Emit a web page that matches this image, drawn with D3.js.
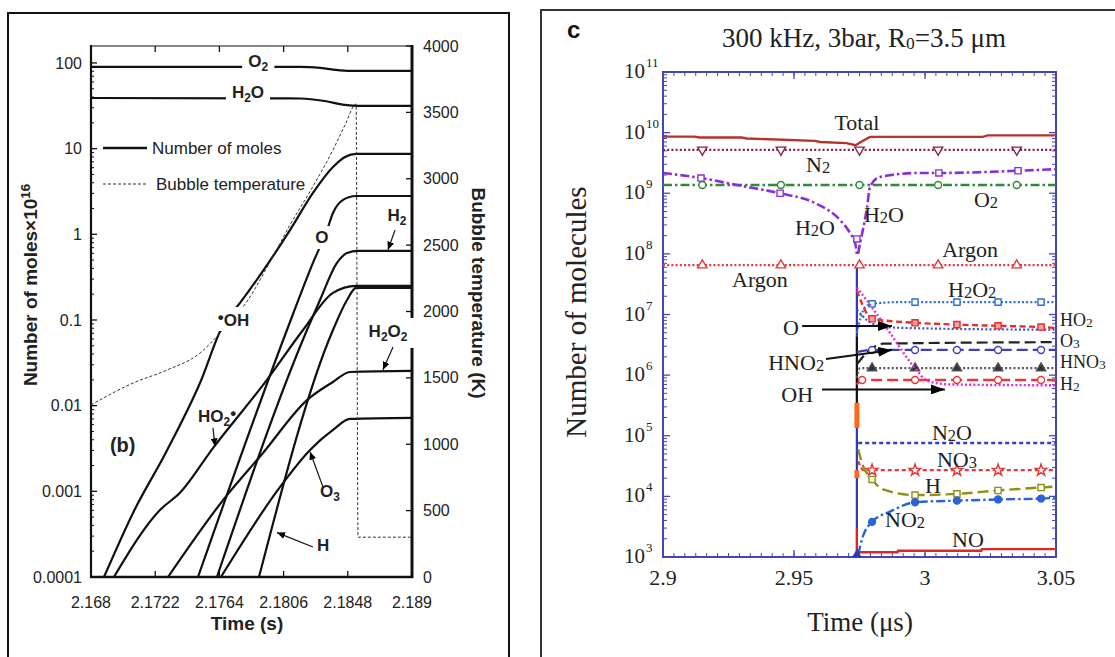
<!DOCTYPE html>
<html><head><meta charset="utf-8">
<script src="https://cdn.jsdelivr.net/npm/d3@7/dist/d3.min.js"></script>
<style>html,body{margin:0;padding:0;background:#fff;}svg{display:block}</style>
</head><body>
<svg id="fig" width="1115" height="657"></svg>
<script>
// ================= DATA : panel (b) =================
const bTimeTicks = [2.168, 2.1722, 2.1764, 2.1806, 2.1848, 2.189];
const bMoleTicks = [0.0001, 0.001, 0.01, 0.1, 1, 10, 100];
const bMoleTickLabels = ["0.0001", "0.001", "0.01", "0.1", "1", "10", "100"];
const bTempTicks = [0, 500, 1000, 1500, 2000, 2500, 3000, 3500, 4000];

const bO2Time = [2.168, 2.1817, 2.1830, 2.1843, 2.1853, 2.189];
const bO2 = [90, 90, 87.5, 82, 80.7, 80.7];
const bH2OTime = [2.168, 2.1817, 2.1833, 2.1846, 2.1855, 2.189];
const bH2O = [39, 38.5, 36, 32.4, 31.5, 31.5];
const bOHTime = [2.16885, 2.17075, 2.17297, 2.17513, 2.17664, 2.17775, 2.18102, 2.18252, 2.18383, 2.18462, 2.18534, 2.189];
const bOH = [1e-4, 5.6e-4, 3.0e-3, 0.0184, 0.0875, 0.158, 1.12, 3.04, 6.1, 8.0, 8.7, 8.7];
const bOTime = [2.175, 2.18082, 2.18252, 2.18344, 2.18383, 2.18449, 2.18534, 2.189];
const bO = [1e-4, 0.0764, 0.464, 1.12, 1.77, 2.52, 2.8, 2.8];
const bH2Time = [2.17624, 2.18213, 2.18298, 2.18409, 2.18475, 2.18547, 2.189];
const bH2 = [1e-4, 0.0764, 0.171, 0.464, 0.605, 0.64, 0.64];
const bHTime = [2.17899, 2.18383, 2.18475, 2.18534, 2.189];
const bH = [1e-4, 0.0764, 0.171, 0.237, 0.237];
const bHO2Time = [2.1695, 2.17251, 2.17382, 2.17598, 2.17951, 2.18187, 2.18383, 2.18534, 2.189];
const bHO2 = [1e-4, 6.05e-4, 9.6e-4, 3.2e-3, 0.020, 0.0764, 0.207, 0.25, 0.25];
const bH2O2Time = [2.17304, 2.17664, 2.17925, 2.18213, 2.18383, 2.18494, 2.189];
const bH2O2 = [1e-4, 7.9e-4, 2.8e-3, 0.0116, 0.0189, 0.0247, 0.0254];
const bO3Time = [2.1765, 2.18036, 2.18233, 2.18383, 2.18494, 2.189];
const bO3 = [1e-4, 1.12e-3, 3.04e-3, 5.2e-3, 7.0e-3, 7.2e-3];
const bTempTime = [2.168, 2.17075, 2.17297, 2.17513, 2.17644, 2.17827, 2.17971, 2.18102, 2.18246, 2.18383, 2.18462, 2.18534, 2.18547, 2.189];
const bTemp = [1296, 1461, 1559, 1687, 1838, 2087, 2373, 2652, 2930, 3217, 3405, 3563, 300, 300];

// ================= DATA : panel (c) =================
const cTimeTicks = [2.9, 2.95, 3, 3.05];
const cTimeTickLabels = ["2.9", "2.95", "3", "3.05"];
const cExpTicks = [3, 4, 5, 6, 7, 8, 9, 10, 11];
const cMarkPre = [2.915, 2.945, 2.975, 3.005, 3.035];
const cMarkPost = [2.9798, 2.9962, 3.0122, 3.0279, 3.0443];
const cT0 = 2.974;

const cTotalTime = [2.9, 2.912, 2.914, 2.93, 2.932, 2.958, 2.96, 2.97, 2.9735, 2.976, 2.979, 3.022, 3.024, 3.05];
const cTotal = [8.6e9, 8.6e9, 8.3e9, 8.3e9, 8.0e9, 7.3e9, 7.0e9, 6.7e9, 6.2e9, 7.2e9, 8.5e9, 8.5e9, 9.0e9, 9.0e9];
const cN2Time = [2.9, 3.05];
const cN2 = [5.2e9, 5.2e9];
const cN2Marks = [5.2e9, 5.2e9, 5.2e9, 5.2e9, 5.2e9];
const cO2Time = [2.9, 3.05];
const cO2 = [1.37e9, 1.37e9];
const cO2Marks = [1.37e9, 1.37e9, 1.37e9, 1.37e9, 1.37e9];
const cArTime = [2.9, 3.05];
const cAr = [6.5e7, 6.5e7];
const cArMarks = [6.5e7, 6.5e7, 6.5e7, 6.5e7, 6.5e7];
const cH2OTime = [2.9, 2.9145, 2.93, 2.9447, 2.958, 2.9676, 2.9714, 2.9735, 2.9742, 2.9752, 2.9763, 2.9779, 2.979, 2.9828, 2.998, 3.0053, 3.0355, 3.05];
const cH2O = [2.16e9, 1.78e9, 1.32e9, 1.0e9, 6.9e8, 3.6e8, 2.2e8, 1.4e8, 9.5e7, 1.5e8, 2.5e8, 5.9e8, 1.26e9, 1.86e9, 2.16e9, 2.16e9, 2.35e9, 2.5e9];
const cH2OMarkTime = [2.9145, 2.9447, 2.974, 3.0053, 3.0355];
const cH2OMarks = [1.78e9, 1.0e9, 1.76e8, 2.16e9, 2.35e9];

const cH2O2Time = [2.974, 2.9755, 2.977, 2.9798, 2.99, 3.05];
const cH2O2 = [5e6, 9e6, 1.3e7, 1.5e7, 1.6e7, 1.6e7];
const cH2O2Marks = [1.5e7, 1.6e7, 1.6e7, 1.6e7, 1.6e7];
const cHO2Time = [2.974, 2.976, 2.978, 2.9798, 2.9962, 3.0122, 3.0279, 3.0443, 3.05];
const cHO2 = [2.5e7, 1.5e7, 1.0e7, 8.5e6, 7.3e6, 6.8e6, 6.5e6, 6.2e6, 6.0e6];
const cHO2Marks = [8.5e6, 7.3e6, 6.8e6, 6.5e6, 6.2e6];
const cOTime = [2.974, 2.978, 2.985, 3.0, 3.05];
const cO = [1.2e7, 8e6, 6.2e6, 5.9e6, 5.6e6];
const cO3Time = [2.974, 2.978, 2.984, 3.05];
const cO3 = [1.5e6, 2.4e6, 3.3e6, 3.5e6];
const cHNO2Time = [2.974, 2.9798, 3.05];
const cHNO2 = [2.4e6, 2.6e6, 2.6e6];
const cHNO2Marks = [2.6e6, 2.6e6, 2.6e6, 2.6e6, 2.6e6];
const cHNO3Time = [2.974, 2.9752, 3.05];
const cHNO3 = [0.9e6, 1.3e6, 1.3e6];
const cHNO3Marks = [1.3e6, 1.3e6, 1.3e6, 1.3e6, 1.3e6];
const cH2Time = [2.974, 2.976, 3.05];
const cH2 = [7e5, 8.3e5, 8.3e5];
const cH2MarkTime = [2.976, 2.9962, 3.0122, 3.0279, 3.0443];
const cH2Marks = [8.3e5, 8.3e5, 8.3e5, 8.3e5, 8.3e5];
const cOHTime = [2.974, 2.9798, 2.9866, 2.9962, 3.001, 3.01, 3.05];
const cOH = [2.8e7, 1.3e7, 5e6, 1.3e6, 8e5, 7e5, 6.8e5];
const cN2OTime = [2.9745, 3.05];
const cN2O = [7.6e4, 7.6e4];
const cNO3Time = [2.9745, 2.9765, 3.05];
const cNO3 = [3.8e4, 2.7e4, 2.7e4];
const cNO3Marks = [2.7e4, 2.7e4, 2.7e4, 2.7e4, 2.7e4];
const cHTime = [2.9745, 2.976, 2.9798, 2.984, 2.9962, 3.0122, 3.0279, 3.0443, 3.05];
const cH = [6e4, 3.5e4, 1.9e4, 1.3e4, 1.05e4, 1.1e4, 1.25e4, 1.4e4, 1.45e4];
const cHMarks = [1.9e4, 1.05e4, 1.1e4, 1.25e4, 1.4e4];
const cNO2Time = [2.9745, 2.976, 2.9798, 2.987, 2.9962, 3.0122, 3.0279, 3.0443, 3.05];
const cNO2 = [1.1e3, 2e3, 3.8e3, 5.7e3, 8e3, 8.5e3, 8.9e3, 9.2e3, 9.5e3];
const cNO2Marks = [3.8e3, 8e3, 8.5e3, 8.9e3, 9.2e3];
const cNOTime = [2.9745, 2.9895, 2.9897, 3.0215, 3.0217, 3.05];
const cNO = [1.2e3, 1.2e3, 1.27e3, 1.27e3, 1.35e3, 1.35e3];
const cDropTop = [6.5e7, 4.3e6, 3.5e5, 2.7e4, 3e3];
const cDropBottom = [1e3, 3.5e5, 1.35e5, 2e4, 1e3];

// ================= DRAWING =================
const svg = d3.select('#fig');
const SANS = "'Liberation Sans', Arial, sans-serif";
const SERIF = "'Liberation Serif', 'Times New Roman', serif";

const defs = svg.append('defs');
function arrowDef(id, w, h) {
  defs.append('marker').attr('id', id).attr('viewBox', `0 0 ${w} ${h}`)
    .attr('refX', w).attr('refY', h / 2).attr('markerWidth', w).attr('markerHeight', h)
    .attr('markerUnits', 'userSpaceOnUse').attr('orient', 'auto')
    .append('path').attr('d', `M0,0L${w},${h / 2}L0,${h}Z`).attr('fill', '#000');
}
arrowDef('ahB', 8, 7);
arrowDef('ahC', 14, 10);

// rich text: "_d" -> subscript digit, "^c" -> raised char
function rich(sel, str, scale, shift, rise) {
  const parts = str.split(/(_\d|\^.)/).filter(s => s.length);
  let cur = 0;
  parts.forEach(p => {
    if (p[0] === '_') {
      sel.append('tspan').attr('font-size', (scale * 100) + '%').attr('dy', shift - cur).text(p.slice(1));
      cur = shift;
    } else if (p[0] === '^') {
      sel.append('tspan').attr('dy', -(rise || 4) - cur).text(p.slice(1));
      cur = -(rise || 4);
    } else {
      sel.append('tspan').attr('dy', -cur).text(p);
      cur = 0;
    }
  });
}

// ---------------- Panel (b) ----------------
svg.append('rect').attr('x', 8).attr('y', 13).attr('width', 501).attr('height', 700)
  .attr('fill', 'none').attr('stroke', '#111').attr('stroke-width', 2);

const bX = d3.scaleLinear().domain([2.168, 2.189]).range([91, 412]);
const bY = d3.scaleLog().domain([1e-4, Math.pow(10, 2.198)]).range([577, 46]);
const bT = d3.scaleLinear().domain([0, 4000]).range([577, 46]);
const gB = svg.append('g');

// ticks
const bMinor = [];
bMoleTicks.forEach(d => { for (let k = 2; k <= 9; k++) { if (d * k < bY.domain()[1]) bMinor.push(d * k); } });
gB.selectAll('.bminor').data(bMinor).join('line')
  .attr('x1', bX.range()[0]).attr('x2', bX.range()[0] + 3).attr('y1', d => bY(d)).attr('y2', d => bY(d))
  .attr('stroke', '#111').attr('stroke-width', 1);
gB.selectAll('.bmajor').data(bMoleTicks).join('line')
  .attr('x1', bX.range()[0]).attr('x2', bX.range()[0] + 6).attr('y1', d => bY(d)).attr('y2', d => bY(d))
  .attr('stroke', '#111').attr('stroke-width', 1.3);
gB.selectAll('.bylab').data(bMoleTicks).join('text')
  .attr('x', 82).attr('y', d => bY(d)).attr('dy', '0.35em').attr('text-anchor', 'end')
  .attr('font-family', SANS).attr('font-size', 16).attr('fill', '#222')
  .text((d, i) => bMoleTickLabels[i]);
gB.selectAll('.btick').data(bTempTicks).join('line')
  .attr('x1', bX.range()[1] - 6).attr('x2', bX.range()[1]).attr('y1', d => bT(d)).attr('y2', d => bT(d))
  .attr('stroke', '#111').attr('stroke-width', 1.3);
gB.selectAll('.btlab').data(bTempTicks).join('text')
  .attr('x', 423).attr('y', d => bT(d)).attr('dy', '0.35em')
  .attr('font-family', SANS).attr('font-size', 16).attr('fill', '#222').text(d => d);
gB.selectAll('.bxt').data(bTimeTicks.slice(1, -1)).join('line')
  .attr('x1', d => bX(d)).attr('x2', d => bX(d)).attr('y1', 577).attr('y2', 571)
  .attr('stroke', '#111').attr('stroke-width', 1.3);
gB.selectAll('.bxt2').data(bTimeTicks.slice(1, -1)).join('line')
  .attr('x1', d => bX(d)).attr('x2', d => bX(d)).attr('y1', 46).attr('y2', 52)
  .attr('stroke', '#111').attr('stroke-width', 1.3);
gB.selectAll('.bxlab').data(bTimeTicks).join('text')
  .attr('x', d => bX(d)).attr('y', 608).attr('text-anchor', 'middle')
  .attr('font-family', SANS).attr('font-size', 16).attr('fill', '#222').text(d => d);

// frame
gB.append('line').attr('x1', 91).attr('x2', 412).attr('y1', 46).attr('y2', 46).attr('stroke', '#111').attr('stroke-width', 1.2);
gB.append('line').attr('x1', 91).attr('x2', 91).attr('y1', 45).attr('y2', 578).attr('stroke', '#111').attr('stroke-width', 2.2);
gB.append('line').attr('x1', 90).attr('x2', 413).attr('y1', 577).attr('y2', 577).attr('stroke', '#111').attr('stroke-width', 2.4);
gB.append('line').attr('x1', 412).attr('x2', 412).attr('y1', 45).attr('y2', 578).attr('stroke', '#111').attr('stroke-width', 3);

// curves
const bLine = d3.line().x(d => bX(d[0])).y(d => bY(d[1])).curve(d3.curveMonotoneX);
const bSeries = [[bO2Time, bO2], [bH2OTime, bH2O], [bOHTime, bOH], [bOTime, bO], [bH2Time, bH2],
  [bHTime, bH], [bHO2Time, bHO2], [bH2O2Time, bH2O2], [bO3Time, bO3]];
bSeries.forEach(s => {
  gB.append('path').datum(d3.zip(s[0], s[1])).attr('d', bLine)
    .attr('fill', 'none').attr('stroke', '#111').attr('stroke-width', 2.2).attr('stroke-linejoin', 'round');
});
const bTLine = d3.line().x(d => bX(d[0])).y(d => bT(d[1])).curve(d3.curveMonotoneX);
gB.append('path').datum(d3.zip(bTempTime, bTemp)).attr('d', bTLine)
  .attr('fill', 'none').attr('stroke', '#333').attr('stroke-width', 1).attr('stroke-dasharray', '3,2');

// legend (inside plot, pixel offsets from plot frame)
gB.append('line').attr('x1', 103).attr('x2', 147).attr('y1', 148).attr('y2', 148).attr('stroke', '#111').attr('stroke-width', 2.4);
gB.append('text').attr('x', 152).attr('y', 148).attr('dy', '0.35em').attr('font-family', SANS).attr('font-size', 17).attr('fill', '#222').text('Number of moles');
gB.append('line').attr('x1', 103).attr('x2', 147).attr('y1', 184).attr('y2', 184).attr('stroke', '#333').attr('stroke-width', 1).attr('stroke-dasharray', '3,2');
gB.append('text').attr('x', 156).attr('y', 184).attr('dy', '0.35em').attr('font-family', SANS).attr('font-size', 17).attr('fill', '#222').text('Bubble temperature');

// curve labels (data coordinates)
function bLabel(str, t, v, o) {
  o = o || {};
  const g = gB.append('g');
  const txt = g.append('text').attr('x', bX(t)).attr('y', bY(v)).attr('dy', '0.35em')
    .attr('text-anchor', o.anchor || 'middle').attr('font-family', SANS)
    .attr('font-weight', 'bold').attr('font-size', o.size || 17).attr('fill', '#222');
  rich(txt, str, 0.7, 4, 3);
  if (o.box) {
    const bb = txt.node().getBBox();
    const p = o.pad || [3, 1, 3, 1];
    g.insert('rect', 'text').attr('x', bb.x - p[0]).attr('y', bb.y - p[1])
      .attr('width', bb.width + p[0] + p[2]).attr('height', bb.height + p[1] + p[3]).attr('fill', '#fff');
  }
}
bLabel('O_2', 2.17893, 90, { box: true, pad: [6, 0, 6, 0] });
bLabel('H_2O', 2.17827, 39, { box: true, pad: [6, 0, 6, 0] });
bLabel('O', 2.18311, 0.79, { box: true, pad: [3, 2, 3, 2] });
bLabel('H_2', 2.18802, 1.43);
bLabel('^•OH', 2.17630, 0.0850, { anchor: 'start', box: true, pad: [1, 1, 2, 1] });
bLabel('H_2O_2', 2.18743, 0.0634, { box: true, pad: [4, 4, 12, 4] });
bLabel('HO_2^•', 2.17500, 6.46e-3, { anchor: 'start' });
bLabel('(b)', 2.16924, 2.88e-3, { anchor: 'start', size: 20 });
bLabel('O_3', 2.18298, 8.6e-4, { anchor: 'start' });
bLabel('H', 2.18278, 2.0e-4, { anchor: 'start' });

function bArrow(t1, v1, t2, v2) {
  gB.append('line').attr('x1', bX(t1)).attr('y1', bY(v1)).attr('x2', bX(t2)).attr('y2', bY(v2))
    .attr('stroke', '#111').attr('stroke-width', 1.2).attr('marker-end', 'url(#ahB)');
}
bArrow(2.18789, 1.12, 2.18743, 0.66);
bArrow(2.18776, 0.0484, 2.18710, 0.0262);
bArrow(2.17598, 5.5e-3, 2.17611, 3.35e-3);
bArrow(2.18318, 1.12e-3, 2.18233, 2.9e-3);
bArrow(2.18252, 2.24e-4, 2.18017, 3.3e-4);

// axis titles
gB.append('text').attr('transform', 'translate(30,285) rotate(-90)').attr('text-anchor', 'middle').attr('dy', '0.35em')
  .attr('font-family', SANS).attr('font-weight', 'bold').attr('font-size', 19).attr('fill', '#222')
  .call(s => { s.append('tspan').text('Number of moles×10'); s.append('tspan').attr('font-size', '70%').attr('dy', -7).text('16'); });
gB.append('text').attr('transform', 'translate(479,293) rotate(90)').attr('text-anchor', 'middle').attr('dy', '0.35em')
  .attr('font-family', SANS).attr('font-weight', 'bold').attr('font-size', 19).attr('fill', '#222').text('Bubble temperature (K)');
gB.append('text').attr('x', 247).attr('y', 630).attr('text-anchor', 'middle')
  .attr('font-family', SANS).attr('font-weight', 'bold').attr('font-size', 19).attr('fill', '#222').text('Time (s)');

// ---------------- Panel (c) ----------------
svg.append('rect').attr('x', 541).attr('y', 10).attr('width', 700).attr('height', 700)
  .attr('fill', 'none').attr('stroke', '#333').attr('stroke-width', 2);
const cX = d3.scaleLinear().domain([2.9, 3.05]).range([663, 1056]);
const cY = d3.scaleLog().domain([1e3, 1e11]).range([557, 72]);
const gC = svg.append('g');
const AX = '#4545b5';

// ticks
const cMinorY = [];
cExpTicks.slice(0, -1).forEach(e => { for (let k = 2; k <= 9; k++) cMinorY.push(k * Math.pow(10, e)); });
[[663, 1], [1056, -1]].forEach(([x0, dir]) => {
  gC.selectAll(null).data(cMinorY).join('line').attr('x1', x0).attr('x2', x0 + dir * 4)
    .attr('y1', d => cY(d)).attr('y2', d => cY(d)).attr('stroke', AX).attr('stroke-width', 1);
  gC.selectAll(null).data(cExpTicks).join('line').attr('x1', x0).attr('x2', x0 + dir * 7)
    .attr('y1', d => cY(Math.pow(10, d))).attr('y2', d => cY(Math.pow(10, d))).attr('stroke', AX).attr('stroke-width', 1.3);
});
const cMinorX = d3.range(0, 37).map(i => 2.9 + i * 0.05 / 12);
[[557, -1], [72, 1]].forEach(([y0, dir]) => {
  gC.selectAll(null).data(cMinorX).join('line').attr('y1', y0).attr('y2', y0 + dir * 4)
    .attr('x1', d => cX(d)).attr('x2', d => cX(d)).attr('stroke', AX).attr('stroke-width', 1);
  gC.selectAll(null).data(cTimeTicks).join('line').attr('y1', y0).attr('y2', y0 + dir * 7)
    .attr('x1', d => cX(d)).attr('x2', d => cX(d)).attr('stroke', AX).attr('stroke-width', 1.3);
});
gC.append('rect').attr('x', 663).attr('y', 72).attr('width', 393).attr('height', 485)
  .attr('fill', 'none').attr('stroke', AX).attr('stroke-width', 2);

gC.selectAll('.cxl').data(cTimeTicks).join('text').attr('x', d => cX(d)).attr('y', 585)
  .attr('text-anchor', 'middle').attr('font-family', SERIF).attr('font-size', 22).attr('fill', '#222')
  .text((d, i) => cTimeTickLabels[i]);
gC.selectAll('.cyl').data(cExpTicks).join('text').attr('x', 645).attr('y', d => cY(Math.pow(10, d)) + 6)
  .attr('text-anchor', 'end').attr('font-family', SERIF).attr('font-size', 21).attr('fill', '#222').text('10');
gC.selectAll('.cye').data(cExpTicks).join('text').attr('x', 646).attr('y', d => cY(Math.pow(10, d)) - 5)
  .attr('font-family', SERIF).attr('font-size', 13).attr('fill', '#222').text(d => d);

// series
const lin = d3.line().x(d => cX(d[0])).y(d => cY(d[1]));
const mono = d3.line().x(d => cX(d[0])).y(d => cY(d[1])).curve(d3.curveMonotoneX);
const DOT = '2,2.2', DASH = '6,3.5', LDASH = '11,5', DDOT = '9,3,2.5,3';
const cSeries = [
  { t: cArTime, v: cAr, c: '#e23a3a', w: 2.2, dash: DOT, mt: cMarkPre, mv: cArMarks, sym: d3.symbolTriangle, fill: '#fff' },
  { t: cTotalTime, v: cTotal, c: '#b8322e', w: 2.4, dash: null, lin: true },
  { t: cN2Time, v: cN2, c: '#8a2040', w: 2.2, dash: DOT, mt: cMarkPre, mv: cN2Marks, sym: d3.symbolTriangle, rot: 180, fill: '#fff' },
  { t: cO2Time, v: cO2, c: '#2f8a3a', w: 2.4, dash: DDOT, mt: cMarkPre, mv: cO2Marks, sym: d3.symbolCircle, fill: '#fff' },
  { t: cH2OTime, v: cH2O, c: '#8a2fd8', w: 2.6, dash: DDOT, mt: cH2OMarkTime, mv: cH2OMarks, sym: d3.symbolSquare, fill: '#fff' },
  { t: cH2O2Time, v: cH2O2, c: '#2a6fd6', w: 2.2, dash: DOT, mt: cMarkPost, mv: cH2O2Marks, sym: d3.symbolSquare, fill: '#fff' },
  { t: cOTime, v: cO, c: '#3b55c8', w: 2.2, dash: DOT },
  { t: cHO2Time, v: cHO2, c: '#e03030', w: 2.4, dash: DASH, mt: cMarkPost, mv: cHO2Marks, sym: d3.symbolSquare, fill: '#f6a0a0' },
  { t: cO3Time, v: cO3, c: '#222', w: 2.2, dash: LDASH },
  { t: cHNO2Time, v: cHNO2, c: '#4040b8', w: 2.2, dash: LDASH, mt: cMarkPost, mv: cHNO2Marks, sym: d3.symbolCircle, fill: '#fff' },
  { t: cHNO3Time, v: cHNO3, c: '#555', w: 2.2, dash: DOT, mt: cMarkPost, mv: cHNO3Marks, sym: d3.symbolTriangle, fill: '#333' },
  { t: cH2Time, v: cH2, c: '#e63838', w: 2.4, dash: LDASH, mt: cH2MarkTime, mv: cH2Marks, sym: d3.symbolCircle, fill: '#fff' },
  { t: cOHTime, v: cOH, c: '#e030c8', w: 2.4, dash: DOT },
  { t: cN2OTime, v: cN2O, c: '#2f3fc8', w: 2.4, dash: '4,3' },
  { t: cNO3Time, v: cNO3, c: '#e03a3a', w: 2.2, dash: '4,3', mt: cMarkPost, mv: cNO3Marks, sym: d3.symbolStar, fill: '#fff' },
  { t: cHTime, v: cH, c: '#8f8f10', w: 2.4, dash: LDASH, mt: cMarkPost, mv: cHMarks, sym: d3.symbolSquare, fill: '#fff' },
  { t: cNO2Time, v: cNO2, c: '#2a64d0', w: 2.4, dash: DDOT, mt: cMarkPost, mv: cNO2Marks, sym: d3.symbolCircle, fill: '#2a64d0' },
  { t: cNOTime, v: cNO, c: '#e02525', w: 2.4, dash: null, lin: true }
];
// transition drops
const dropStyle = [{ c: '#2b3bb0', w: 2.2 }, { c: '#111', w: 2 }, { c: '#ff6a1a', w: 5 }, { c: '#ff6a1a', w: 5 }, { c: '#e02525', w: 2 }];
cDropTop.forEach((top, i) => {
  gC.append('line').attr('x1', cX(cT0)).attr('x2', cX(cT0)).attr('y1', cY(top)).attr('y2', cY(cDropBottom[i]))
    .attr('stroke', dropStyle[i].c).attr('stroke-width', dropStyle[i].w);
});
cSeries.forEach(s => {
  gC.append('path').datum(d3.zip(s.t, s.v)).attr('d', s.lin ? lin : mono)
    .attr('fill', 'none').attr('stroke', s.c).attr('stroke-width', s.w)
    .attr('stroke-dasharray', s.dash);
  if (s.mt) {
    const sym = d3.symbol().type(s.sym).size(s.sym === d3.symbolStar ? 42 : 38);
    gC.selectAll(null).data(d3.zip(s.mt, s.mv)).join('path').attr('d', sym)
      .attr('transform', d => `translate(${cX(d[0])},${cY(d[1])}) rotate(${s.rot || 0})`)
      .attr('fill', s.fill).attr('stroke', s.c).attr('stroke-width', 1.4);
  }
});
gC.append('path').attr('d', d3.symbol().type(d3.symbolTriangle).size(40)())
  .attr('transform', `translate(${cX(cT0)},${cY(1.1e3)})`).attr('fill', '#2b3bb0');

// labels
function cLabel(str, t, v, anchor, size) {
  const txt = gC.append('text').attr('x', cX(t)).attr('y', cY(v)).attr('text-anchor', anchor || 'middle')
    .attr('font-family', SERIF).attr('font-size', size || 22).attr('fill', '#222');
  rich(txt, str, 0.75, 1);
}
cLabel('Total', 2.974, 1.1e10);
cLabel('N_2', 2.9592, 2.24e9);
cLabel('H_2O', 2.958, 2.04e8);
cLabel('H_2O', 2.9767, 3.36e8, 'start');
cLabel('O_2', 3.0233, 5.9e8);
cLabel('Argon', 3.0172, 8.9e7);
cLabel('Argon', 2.937, 2.85e7);
cLabel('H_2O_2', 3.018, 1.95e7);
cLabel('HO_2', 3.0515, 6.5e6, 'start', 18);
cLabel('O_3', 3.0515, 2.95e6, 'start', 18);
cLabel('HNO_3', 3.0515, 1.3e6, 'start', 18);
cLabel('H_2', 3.0515, 5.6e5, 'start', 18);
cLabel('O', 2.9519, 4.6e6, 'end');
cLabel('HNO_2', 2.9615, 1.22e6, 'end');
cLabel('OH', 2.9573, 3.6e5, 'end');
cLabel('N_2O', 3.0103, 8.5e4);
cLabel('NO_3', 3.0122, 3.05e4);
cLabel('H', 3.003, 1.13e4);
cLabel('NO_2', 2.9924, 3.1e3);
cLabel('NO', 3.0164, 1.46e3);

function cArrow(t1, v1, t2, v2) {
  gC.append('line').attr('x1', cX(t1)).attr('y1', cY(v1)).attr('x2', cX(t2)).attr('y2', cY(v2))
    .attr('stroke', '#111').attr('stroke-width', 2).attr('marker-end', 'url(#ahC)');
}
cArrow(2.9531, 6.45e6, 2.9874, 6.45e6);
cArrow(2.9622, 1.85e6, 2.9874, 2.6e6);
cArrow(2.9607, 5.8e5, 3.0076, 5.8e5);

// titles
svg.append('text').attr('x', 567).attr('y', 38).attr('font-family', SANS).attr('font-weight', 'bold')
  .attr('font-size', 24).attr('fill', '#111').text('c');
svg.append('text').attr('x', 864).attr('y', 47).attr('text-anchor', 'middle').attr('font-family', SERIF)
  .attr('font-size', 27).attr('fill', '#222')
  .call(s => { s.append('tspan').text('300 kHz, 3bar, R'); s.append('tspan').attr('font-size', '65%').attr('dy', 2).text('0'); s.append('tspan').attr('dy', -2).text('=3.5 μm'); });
svg.append('text').attr('transform', 'translate(576,312) rotate(-90)').attr('text-anchor', 'middle').attr('dy', '0.35em')
  .attr('font-family', SERIF).attr('font-size', 29).attr('fill', '#222').text('Number of molecules');
svg.append('text').attr('x', 860).attr('y', 631).attr('text-anchor', 'middle').attr('font-family', SERIF)
  .attr('font-size', 27).attr('fill', '#222').text('Time (μs)');
</script>
</body></html>
